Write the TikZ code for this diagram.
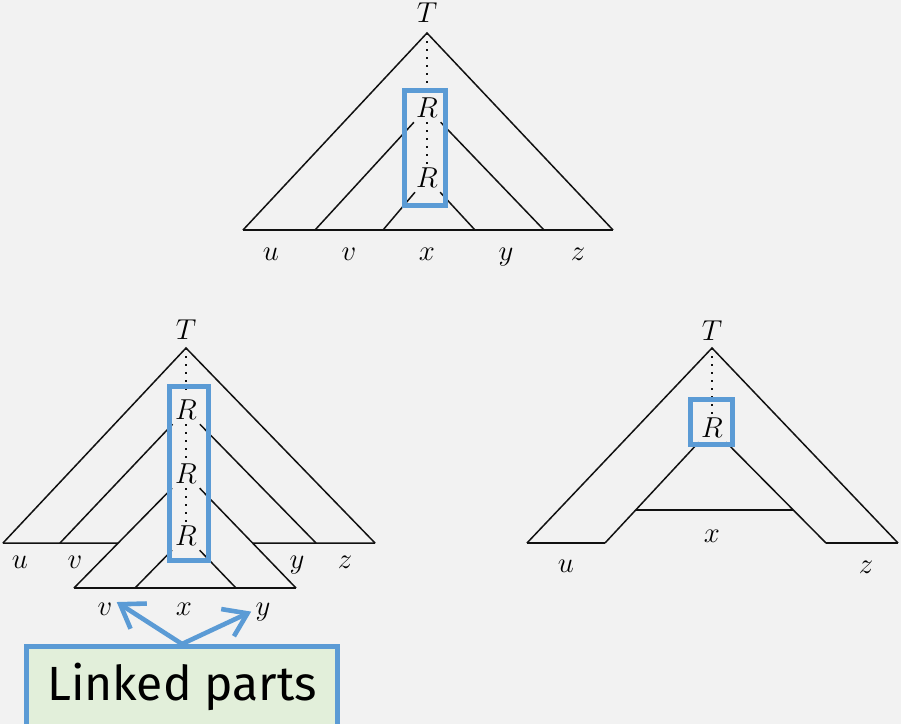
\documentclass[tikz,border=0pt]{standalone}
\usepackage{fontspec}
\newfontfamily\notefont{Fira Sans}
\usetikzlibrary{arrows.meta,calc}
\definecolor{paper}{HTML}{F2F2F2}
\definecolor{hiline}{HTML}{5B9BD5}
\definecolor{notefill}{HTML}{E2EFDA}
\definecolor{ink}{HTML}{111111}
\tikzset{
  % ---- tree parts ------------------------------------------------
  branch/.style    = {draw=ink, line width=.75pt},
  spine/.style     = {draw=ink, line width=.9pt,
                      dash pattern=on 1pt off 3pt},
  sym/.style       = {inner sep=2pt, font=\fontsize{15}{18}\selectfont},
  leaf/.style      = {sym, anchor=base},
  % ---- highlight -------------------------------------------------
  hl/.style        = {draw=hiline, line width=2.5pt},
  note/.style      = {draw=hiline, line width=2.5pt, fill=notefill,
                      minimum width=155.5pt, minimum height=40.5pt,
                      inner sep=0pt, font=\notefont\fontsize{24}{28}\selectfont},
  link/.style      = {draw=hiline, line width=2.3pt,
                      -{Straight Barb[length=11pt, width=15pt]}},
}
\begin{document}
\begin{tikzpicture}[x=0.5pt, y=-0.5pt]
  \fill[paper] (0,0) rectangle (901,724);
  \clip (0,0) rectangle (901,724);
  % ---- top: the pumped tree ----
  \coordinate (a1) at (427,33);
  \node[sym] (T1) at (427,13) {$T$};
  \node[sym] (R11) at (427,108) {$R$};
  \node[sym] (R12) at (427,178) {$R$};
  \coordinate (b10) at (243,230);
  \coordinate (b11) at (315,230);
  \coordinate (b12) at (383,230);
  \coordinate (b13) at (475,230);
  \coordinate (b14) at (544,230);
  \coordinate (b15) at (613,230);
  \draw[branch] (b10) -- (a1) -- (b15);
  \draw[branch] (b10) -- (b15);
  \draw[branch] (R11) -- (b11);
  \draw[branch] (R11) -- (b14);
  \draw[branch] (R12) -- (b12);
  \draw[branch] (R12) -- (b13);
  \draw[spine] (a1) -- (R11);
  \draw[spine] (R11) -- (R12);
  \node[leaf] (u1) at (271,260) {$u$};
  \node[leaf] (v1) at (349,260) {$v$};
  \node[leaf] (x1) at (427,260) {$x$};
  \node[leaf] (y1) at (506,260) {$y$};
  \node[leaf] (z1) at (578,260) {$z$};
  \draw[hl] ($(R11)+(-22.5,-17.5)$) rectangle ($(R12)+(18.5,27.5)$);
  % ---- bottom left: pumped up ----
  \coordinate (a2) at (186,348);
  \node[sym] (T2) at (186,330) {$T$};
  \node[sym] (R21) at (186,410) {$R$};
  \node[sym] (R22) at (186,474) {$R$};
  \node[sym] (R23) at (186,536) {$R$};
  \coordinate (b20) at (3,543);
  \coordinate (b21) at (60,543);
  \coordinate (b22) at (316,543);
  \coordinate (b23) at (375,543);
  \coordinate (c20) at (74,588);
  \coordinate (c21) at (135,588);
  \coordinate (c22) at (236,588);
  \coordinate (c23) at (296,588);
  \coordinate (k20) at (intersection of R22--c20 and b20--b23);
  \coordinate (k21) at (intersection of R22--c23 and b20--b23);
  \draw[branch] (b20) -- (a2) -- (b23);
  \draw[branch] (b20) -- (k20);
  \draw[branch] (k21) -- (b23);
  \draw[branch] (R21) -- (b21);
  \draw[branch] (R21) -- (b22);
  \draw[branch] (R22) -- (c20);
  \draw[branch] (R22) -- (c23);
  \draw[branch] (c20) -- (c23);
  \draw[branch] (R23) -- (c21);
  \draw[branch] (R23) -- (c22);
  \draw[spine] (a2) -- (R21);
  \draw[spine] (R21) -- (R22);
  \draw[spine] (R22) -- (R23);
  \node[leaf] (u2) at (20,568) {$u$};
  \node[leaf] (v2) at (75,568) {$v$};
  \node[leaf] (y2) at (297,568) {$y$};
  \node[leaf] (z2) at (345,568) {$z$};
  \node[leaf] (v3) at (105,615) {$v$};
  \node[leaf] (x3) at (184,615) {$x$};
  \node[leaf] (y3) at (263,615) {$y$};
  \draw[hl] ($(R21)+(-16.5,-23.5)$) rectangle ($(R23)+(22.5,24.5)$);
  % ---- bottom right: pumped down ----
  \coordinate (a3) at (712,348);
  \node[sym] (T3) at (712,331) {$T$};
  \node[sym] (R31) at (712,428) {$R$};
  \coordinate (b30) at (527,543);
  \coordinate (b31) at (605,543);
  \coordinate (b32) at (826,543);
  \coordinate (b33) at (898,543);
  \coordinate (k30) at ($(R31)!.713!(b31)$);
  \coordinate (k31) at ($(R31)!.713!(b32)$);
  \draw[branch] (b30) -- (a3) -- (b33);
  \draw[branch] (b30) -- (b31);
  \draw[branch] (b32) -- (b33);
  \draw[branch] (R31) -- (b31);
  \draw[branch] (R31) -- (b32);
  \draw[branch] (k30) -- (k31);
  \draw[spine] (a3) -- (R31);
  \node[leaf] (u4) at (566,572) {$u$};
  \node[leaf] (x4) at (712,542) {$x$};
  \node[leaf] (z4) at (866,573) {$z$};
  \draw[hl] ($(R31)+(-21.5,-28.5)$) rectangle ($(R31)+(20.5,16.5)$);
  % ---- call-out ----
  \node[note] (lp) at (182,687) {Linked parts};
  \draw[link] (lp.north) -- (v3.30);
  \draw[link] (lp.north) -- (y3.west);
\end{tikzpicture}
\end{document}
